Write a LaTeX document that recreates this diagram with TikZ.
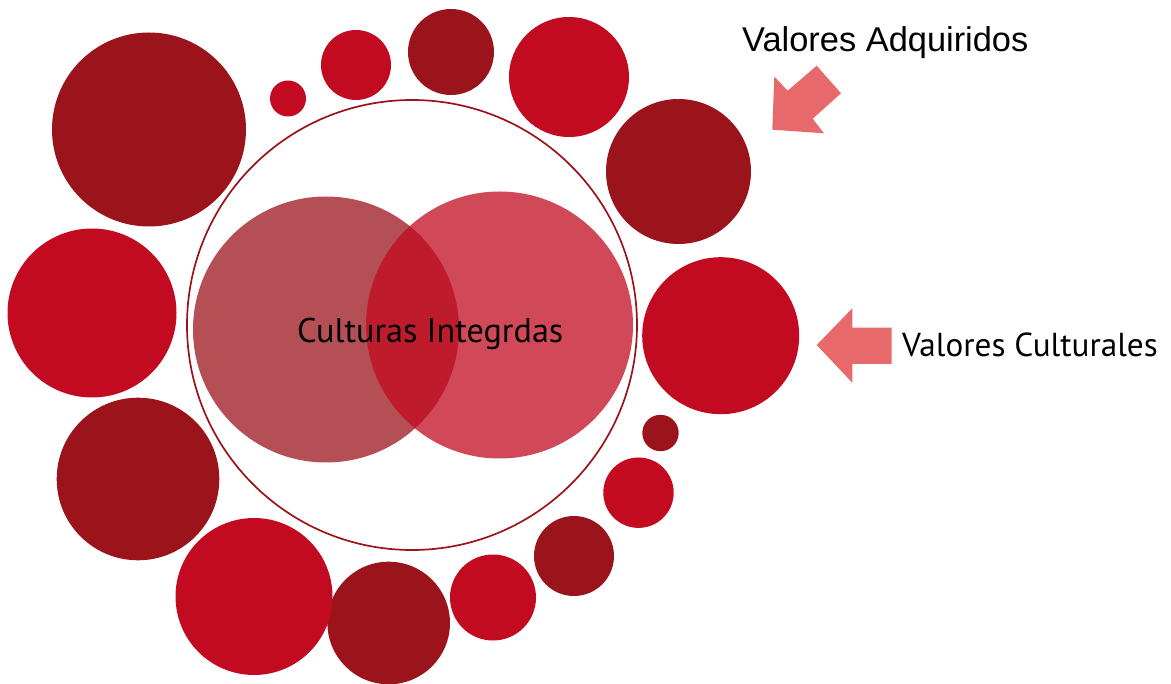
\documentclass[tikz,border=0pt]{standalone}
\usepackage{fontspec}
\setmainfont{Liberation Sans}
\newfontfamily\myriadish{PT Sans}
\definecolor{darkred}{HTML}{9B141C}
\definecolor{brightred}{HTML}{C20B20}
\definecolor{arrowpink}{HTML}{E8696B}
\begin{document}
\begin{tikzpicture}[x=1pt,y=-1pt,
  darkdot/.style={fill=darkred},
  reddot/.style={fill=brightred},
  blockarrow/.style={fill=arrowpink},
  labeltext/.style={inner sep=0pt,anchor=base west,text=black}]
\useasboundingbox (0,0) rectangle (1171,684);
% ring of circles
\fill[darkdot] (149,129.5) circle (97);
\fill[reddot] (288,98.5) circle (18);
\fill[reddot] (356,65) circle (35);
\fill[darkdot] (451,52) circle (43);
\fill[reddot] (569,77) circle (60);
\fill[darkdot] (678.5,171.5) circle (72.5);
\fill[reddot] (720.7,335.7) circle (78.5);
\fill[darkdot] (660.5,433) circle (18.2);
\fill[reddot] (638.5,492.7) circle (35.2);
\fill[darkdot] (574,556) circle (40);
\fill[reddot] (493,597.5) circle (43);
\fill[darkdot] (388.7,623) circle (61.3);
\fill[reddot] (254,596.5) circle (78.5);
\fill[darkdot] (138,479) circle (81.3);
\fill[reddot] (92,313) circle (84.5);
% outline circle
\draw[darkred,line width=1.7pt] (412,325) circle (225);
% venn
\fill[darkred,fill opacity=0.75] (326,329.5) circle (133);
\fill[brightred,fill opacity=0.75] (499.5,325) circle (133.5);
% arrows
\fill[blockarrow] (772.3,129.7) -- (824,133.3) -- (812.7,118.7) -- (841,93.3) -- (816.7,65.7) -- (787.7,90.7) -- (774.3,76.7) -- cycle;
\fill[blockarrow] (816.7,345) -- (852.3,308.3) -- (852.3,327.7) -- (891.7,327.7) -- (891.7,364) -- (852.3,364) -- (852.3,382.7) -- cycle;
% labels
\node[labeltext,font=\fontsize{34.4}{40}\selectfont] (adq) at (742,52) {Valores Adquiridos};
\node[labeltext,font=\myriadish\fontsize{33.2}{38}\selectfont] (cult) at (902,357) {Valores Culturales};
\node[labeltext,font=\myriadish\fontsize{34.2}{39}\selectfont] (integ) at (297,343) {Culturas Integrdas};
\end{tikzpicture}
\end{document}
